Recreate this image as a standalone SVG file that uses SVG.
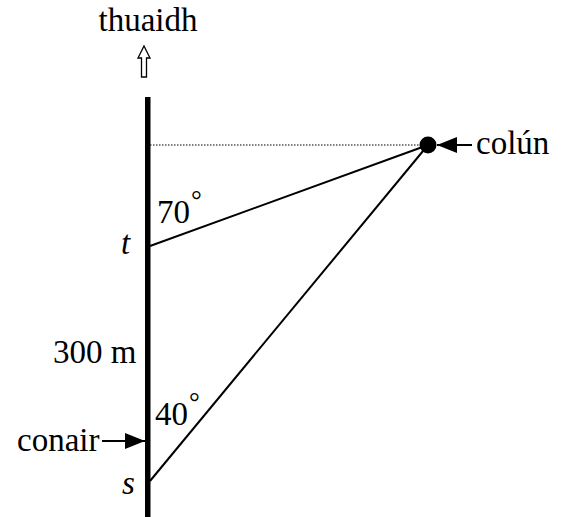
<svg xmlns="http://www.w3.org/2000/svg" width="566" height="517" viewBox="0 0 566 517">
<style>
text{font-family:"Liberation Serif","Times New Roman",serif;font-size:33px;fill:#000}
.it{font-style:italic}
.deg{font-size:27px}
.ln{stroke:#000;stroke-width:2;fill:none}
</style>
<defs>
<marker id="ah" viewBox="0 0 20 16" refX="20" refY="8" markerWidth="20" markerHeight="16" markerUnits="userSpaceOnUse" orient="auto">
<path d="M0,0 L20,8 L0,16 Z" fill="#000"/>
</marker>
</defs>
<rect width="566" height="517" fill="#fff"/>
<g id="north">
<text x="148" y="31" text-anchor="middle" font-size="28">thuaidh</text>
<path d="M144,46 L150,58 L146.5,58 L146.5,77 L141.5,77 L141.5,58 L138,58 Z" fill="#fff" stroke="#000" stroke-width="1.3"/>
</g>
<g id="path-line">
<rect x="145" y="97" width="5.5" height="420" fill="#000"/>
</g>
<g id="column">
<circle cx="428" cy="145" r="8.5" fill="#000"/>
<text x="476" y="154">colún</text>
</g>
<g id="point-t">
<text class="it" x="121" y="254">t</text>
</g>
<g id="point-s">
<text class="it" x="122" y="494">s</text>
</g>
<g id="labels">
<text x="157" y="223">70</text>
<text class="deg" x="191" y="209">°</text>
<text x="53" y="363">300 m</text>
<text x="155" y="425">40</text>
<text class="deg" x="189" y="411">°</text>
<text x="17" y="451">conair</text>
</g>
<g id="connectors">
<line x1="150" y1="145" x2="420" y2="145" stroke="#000" stroke-width="1" stroke-dasharray="1.5,1.5"/>
<line class="ln" x1="150" y1="246" x2="428" y2="145"/>
<line class="ln" x1="150" y1="481" x2="428" y2="145"/>
<line x1="472" y1="145" x2="437" y2="145" stroke="#000" stroke-width="2" marker-end="url(#ah)"/>
<line x1="102" y1="441" x2="145" y2="441" stroke="#000" stroke-width="2" marker-end="url(#ah)"/>
</g>
</svg>
